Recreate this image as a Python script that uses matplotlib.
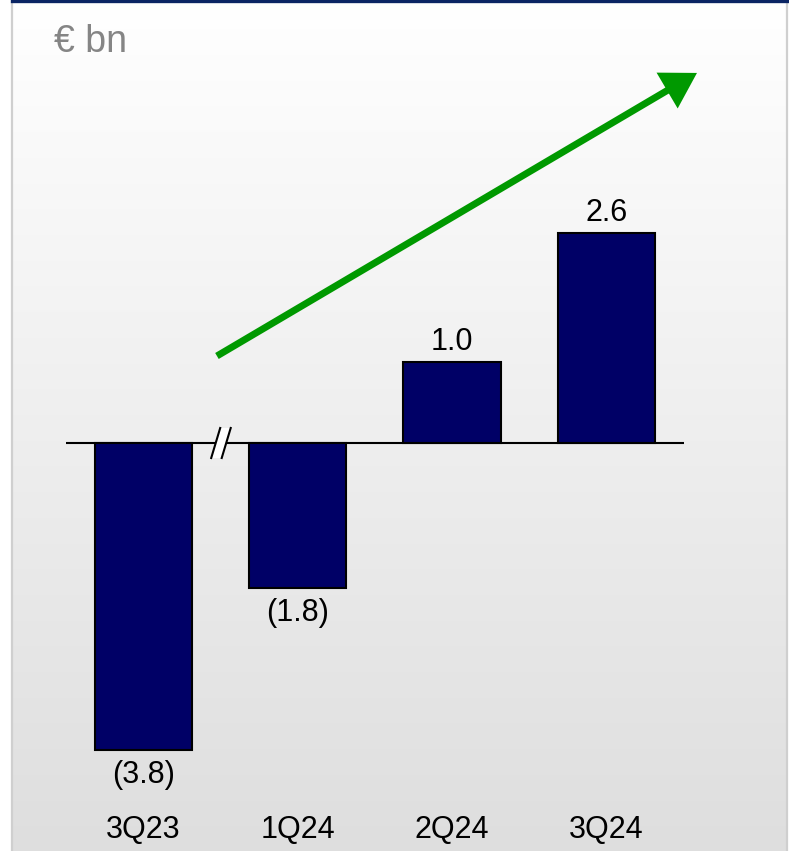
import matplotlib
matplotlib.use("Agg")
import matplotlib.pyplot as plt
import numpy as np
from matplotlib.patches import Polygon
from matplotlib.lines import Line2D

plt.rcParams['font.family'] = ['Liberation Sans', 'DejaVu Sans']

# Data
quarters = ["3Q23", "1Q24", "2Q24", "3Q24"]
values = [-3.8, -1.8, 1.0, 2.6]
value_labels = ["(3.8)", "(1.8)", "1.0", "2.6"]
unit_label = "€ bn"

W, H = 789, 851
fig = plt.figure(figsize=(W / 100, H / 100), dpi=100)
fig.patch.set_facecolor("white")

# Background panel with vertical gradient
bg = fig.add_axes([0, 0, 1, 1], zorder=0)
bg.set_xlim(0, W)
bg.set_ylim(H, 0)
bg.axis("off")
t = np.linspace(0, 1, 256)[:, None, None]
top_c = np.array([1.0, 1.0, 1.0])[None, None, :]
bot_c = np.array([0.871, 0.871, 0.871])[None, None, :]
img = top_c + (bot_c - top_c) * t
bg.imshow(img, extent=(12, 787, H, 2), aspect="auto", interpolation="bilinear")
bg.add_line(Line2D([12, 12], [0, H], color="#cfcfcf", lw=1.6))
bg.add_line(Line2D([787, 787], [0, H], color="#cfcfcf", lw=1.6))
bg.add_line(Line2D([12, 788], [1.2, 1.2], color="#0a2463", lw=2.4))
bg.text(54, 42, unit_label, fontsize=27, color="#858585", va="center", ha="left")

# Main chart axes
px_x = 154.3   # pixels per category
px_y = 80.8    # pixels per unit
y0_px = 443.0  # zero line, pixels from top
ylo, yhi = -4.6, 4.8
left_px = 143.5 - 0.5 * px_x
ax = fig.add_axes([left_px / W,
                   (H - (y0_px - ylo * px_y)) / H,
                   4 * px_x / W,
                   (yhi - ylo) * px_y / H], zorder=1)
ax.patch.set_alpha(0)
ax.set_xlim(-0.5, 3.5)
ax.set_ylim(ylo, yhi)
ax.axis("off")

x = np.arange(len(quarters))
ax.bar(x, values, width=0.63, color="#000066", edgecolor="black", linewidth=1.5, zorder=3)
ax.axhline(0, color="black", lw=1.5, zorder=2)

fs = 22
for xi, v, lab in zip(x, values, value_labels):
    if v >= 0:
        ax.text(xi, v + 0.25, lab, ha="center", va="center", fontsize=fs, color="black")
    else:
        ax.text(xi, v - 0.31, lab, ha="center", va="center", fontsize=fs, color="black")

for xi, q in zip(x, quarters):
    ax.text(xi, -4.79, q, ha="center", va="center", fontsize=fs, color="black", clip_on=False)

# Axis break marker between 3Q23 and 1Q24
bx = 0.502
dx = 4.5 / px_x
dy = 15 / px_y
gap = 10.5 / px_x
poly = Polygon([(bx - gap / 2 - dx, -dy), (bx - gap / 2 + dx, dy),
                (bx + gap / 2 + dx, dy), (bx + gap / 2 - dx, -dy)],
               closed=True, facecolor="white", edgecolor="none", zorder=4)
ax.add_patch(poly)
for s in (-1, 1):
    ax.add_line(Line2D([bx + s * gap / 2 - dx, bx + s * gap / 2 + dx], [-dy, dy],
                       color="black", lw=1.5, zorder=5))

# Trend arrow
ax.annotate("", xy=(3.587, 4.58), xytext=(0.476, 1.077),
            arrowprops=dict(arrowstyle="-|>,head_length=0.8,head_width=0.48",
                            color="#009900", lw=5, mutation_scale=22,
                            shrinkA=0, shrinkB=0, capstyle="butt", joinstyle="miter"),
            annotation_clip=False, zorder=6)

fig.savefig("out.png", dpi=100)
